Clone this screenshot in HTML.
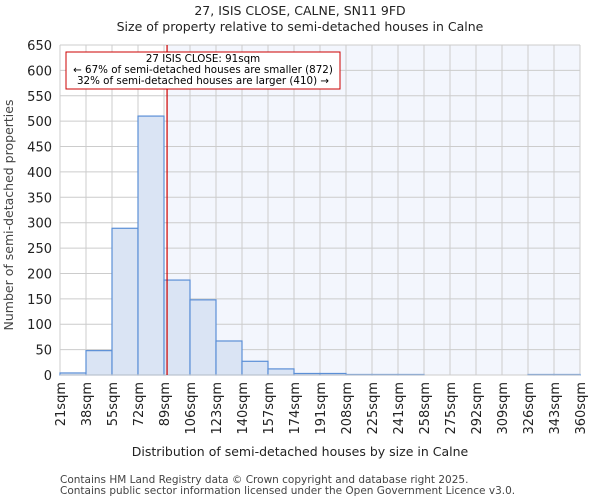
<!DOCTYPE html>
<html><head><meta charset="utf-8"><style>
body{margin:0;background:#fff;font-family:"DejaVu Sans","Liberation Sans",sans-serif;}
svg text{font-family:"DejaVu Sans","Liberation Sans",sans-serif;}
</style></head><body>
<svg id="c" width="600" height="500" xmlns="http://www.w3.org/2000/svg">
<text x="300" y="15" text-anchor="middle" font-size="12.5" fill="#222">27, ISIS CLOSE, CALNE, SN11 9FD</text>
<text x="300" y="31" text-anchor="middle" font-size="12.5" fill="#222">Size of property relative to semi-detached houses in Calne</text>
<g id="plot"></g>
<text x="300" y="456" text-anchor="middle" font-size="12.5" fill="#222">Distribution of semi-detached houses by size in Calne</text>
<text transform="translate(13,215) rotate(-90)" text-anchor="middle" font-size="12.5" fill="#444">Number of semi-detached properties</text>
<text x="60" y="483" font-size="10.5" fill="#444">Contains HM Land Registry data © Crown copyright and database right 2025.</text>
<text x="60" y="494" font-size="10.5" fill="#444">Contains public sector information licensed under the Open Government Licence v3.0.</text>
</svg>
<script>
const binEdges=[21,38,55,72,89,106,123,140,157,174,191,208,225,241,258,275,292,309,326,343,360];
const counts=[4,48,289,510,187,148,67,27,12,3,3,1,1,1,0,0,0,0,1,1];
const yTicks=[0,50,100,150,200,250,300,350,400,450,500,550,600,650];
const propertySize=91;
const NS="http://www.w3.org/2000/svg";
const L=60,R=580,T=45,B=375;
const g=document.getElementById('plot');
const xs=i=>L+(R-L)*i/(binEdges.length-1);
const xv=v=>{for(let i=0;i<binEdges.length-1;i++){if(v<=binEdges[i+1])return xs(i)+(v-binEdges[i])/(binEdges[i+1]-binEdges[i])*(xs(i+1)-xs(i));}return R;};
const y=v=>B-(B-T)*v/650;
function el(t,a){const e=document.createElementNS(NS,t);for(const k in a)e.setAttribute(k,a[k]);g.appendChild(e);return e;}
const px=xv(propertySize);
const bg=el('rect',{x:px,y:T,width:R-px,height:B-T,fill:'#f3f6fd'});


yTicks.forEach(t=>{
 const l=el('line',{x1:L,x2:R,y1:y(t),y2:y(t),stroke:'#ccc'});
 
 
 const tx=el('text',{x:L-8,y:y(t)+5,'text-anchor':'end','font-size':13,fill:'#222'});
 tx.textContent=t;
 
 
});
binEdges.forEach((e,i)=>{
 const l=el('line',{x1:xs(i),x2:xs(i),y1:T,y2:B,stroke:'#ccc'});
 
 
 const tx=el('text',{transform:`translate(${xs(i)+5},382) rotate(-90)`,'text-anchor':'end','font-size':13,fill:'#222'});
 tx.textContent=e+'sqm';
 
 
});
counts.forEach((c,i)=>{
 if(c<=0)return;
 const r=el('rect',{x:xs(i),y:y(c),width:xs(i+1)-xs(i),height:B-y(c),fill:'#dae4f4',stroke:'#5b8fd6','stroke-width':1.2});
 
 
});
const ax=el('line',{x1:L,x2:R,y1:B,y2:B,stroke:'#ccc'});


const pl=el('line',{x1:px,x2:px,y1:T,y2:B,stroke:'#c00','stroke-width':1.2});


const box=el('rect',{x:66,y:52,width:274,height:37,fill:'#fff',stroke:'#c00'});


[['27 ISIS CLOSE: 91sqm',62],['← 67% of semi-detached houses are smaller (872)',73],['32% of semi-detached houses are larger (410) →',84]].forEach(([s,yy])=>{
 const t=el('text',{x:203,y:yy,'text-anchor':'middle','font-size':10.3});
 t.textContent=s;
 
 
});
</script>
</body></html>
